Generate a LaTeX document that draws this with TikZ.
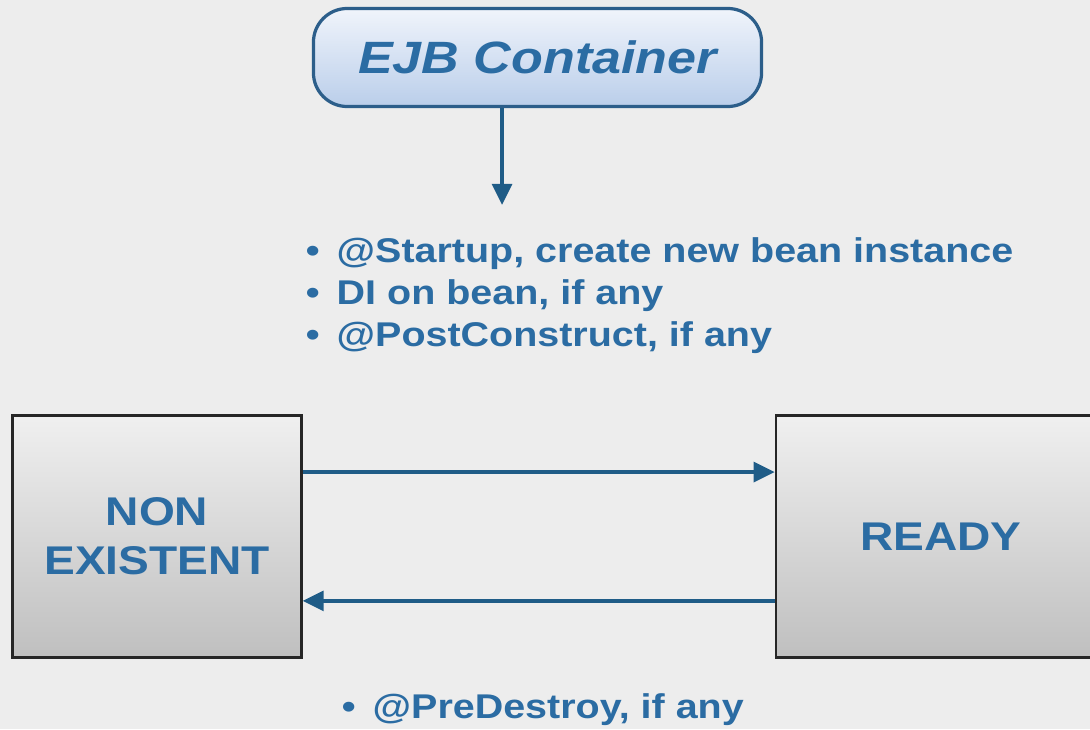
\documentclass[tikz,border=0pt]{standalone}
\usepackage{fontspec}
\setmainfont{Liberation Sans}
\newfontfamily\ejbfont[FakeStretch=1.15]{Liberation Sans}
\usetikzlibrary{%
        arrows.meta,
        positioning
    }
\definecolor{ejbtext}{RGB}{43, 108, 163}
\definecolor{ejbarrow}{RGB}{31, 92, 135}
\definecolor{ejbedge}{RGB}{44, 94, 138}
\definecolor{ejbtop}{RGB}{240, 244, 251}
\definecolor{ejbbottom}{RGB}{186, 206, 234}
\definecolor{canvas}{RGB}{237, 237, 237}
\newcommand{\itembullet}{\textbullet\enspace}
\tikzset{
    container/.style={draw=ejbedge, line width=2.3pt, rounded corners=24pt,
        top color=ejbtop, bottom color=ejbbottom, text=ejbtext,
        minimum width=11.2cm, minimum height=2.45cm,
        font=\ejbfont\bfseries\itshape\fontsize{32.2}{38}\selectfont},
    statebox/.style={draw=black!85, line width=1.7pt,
        top color=gray!12, bottom color=gray!50, text=ejbtext,
        minimum height=6.05cm, align=center,
        font=\ejbfont\bfseries\fontsize{28.5}{34.9}\selectfont},
    notes/.style={align=left, inner sep=0pt, text=ejbtext, anchor=north west,
        font=\ejbfont\bfseries\fontsize{24.4}{29.9}\selectfont},
    transition/.style={-{Triangle[length=15pt, width=14pt]}, ejbarrow,
        line width=2.8pt}
}

\begin{document}
\begin{tikzpicture}[x=0.025cm, y=-0.025cm]

    \clip (0, 0) rectangle (1090, 729);
    \fill[canvas] (0, 0) rectangle (1090, 729);

    \node[container] (ejb) at (537.5, 57.5) {EJB Container};
    \coordinate (drop) at (502, 205);
    \draw[transition] (ejb.south -| drop) -- (drop);

    \node[notes] (create) at (305.5, 237.5) {%
        \itembullet @Startup, create new bean instance\\
        \itembullet DI on bean, if any\\
        \itembullet @PostConstruct, if any};

    \node[statebox, minimum width=7.22cm] (nonexistent) at (157, 536.5)
        {NON\\EXISTENT};
    \node[statebox, minimum width=8.25cm] (ready) at (941, 536.5) {READY};

    \draw[transition] ([yshift=1.61cm]nonexistent.east) --
        ([yshift=1.61cm]ready.west);
    \draw[transition] ([yshift=-1.61cm]ready.west) --
        ([yshift=-1.61cm]nonexistent.east);

    \node[notes] (destroy) at (341.5, 693) {\itembullet @PreDestroy, if any};

\end{tikzpicture}
\end{document}
